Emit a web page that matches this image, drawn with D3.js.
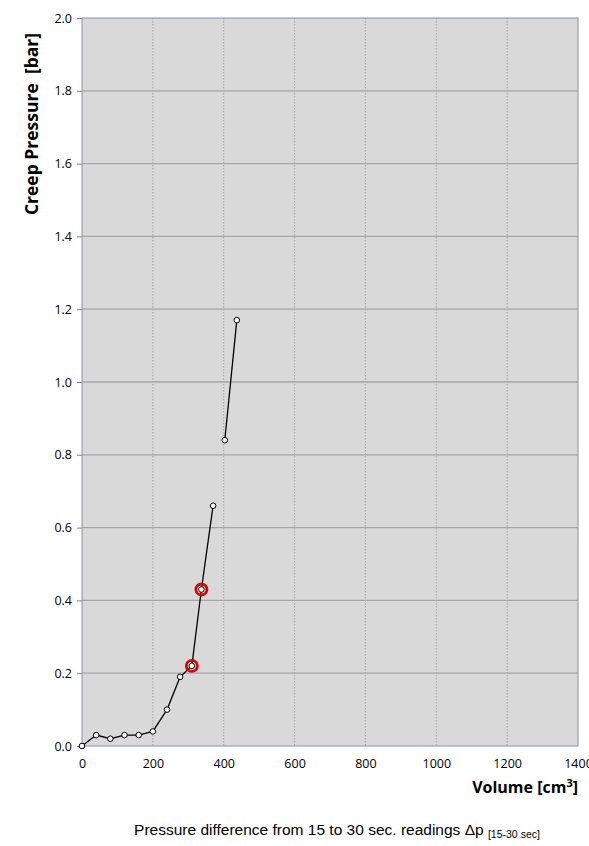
<!DOCTYPE html>
<html>
	<head>
		<meta charset="utf-8">
		<title>Creep Pressure</title>
		<style>
			body { margin: 0; background: #fff; overflow: hidden; }
			svg { position: absolute; left: 0; top: 0; }
		</style>
		<script src="https://d3js.org/d3.v7.min.js" charset="utf-8"></script>
	</head>
	<body>
		<script>
		// volume [cm3] and creep pressure [bar], two separate segments
		var seg1Volume = [0, 40, 80, 120, 160, 200, 240, 277, 310, 337, 370];
		var seg1Pressure = [0, 0.03, 0.02, 0.03, 0.03, 0.04, 0.10, 0.19, 0.22, 0.43, 0.66];
		var seg2Volume = [403, 437];
		var seg2Pressure = [0.84, 1.17];
		// highlighted readings
		var markVolume = [310, 337];
		var markPressure = [0.22, 0.43];

		var xTicks = [0, 200, 400, 600, 800, 1000, 1200, 1400];
		var yTicks = [0, 0.2, 0.4, 0.6, 0.8, 1.0, 1.2, 1.4, 1.6, 1.8, 2.0];

		var w = 589, h = 846;
		var pLeft = 82, pRight = 578, pTop = 18, pBottom = 746;

		var svg = d3.select("body").append("svg")
			.attr("width", w)
			.attr("height", h);

		var x = d3.scaleLinear().domain([0, 1400]).range([pLeft, pRight]);
		var y = d3.scaleLinear().domain([0, 2]).range([pBottom, pTop]);

		svg.append("rect")
			.attr("x", pLeft).attr("y", pTop)
			.attr("width", pRight - pLeft).attr("height", pBottom - pTop)
			.attr("fill", "#d9d9d9");

		// horizontal grid
		svg.append("g").selectAll("line")
			.data(yTicks.slice(1, -1))
			.enter().append("line")
			.attr("x1", pLeft).attr("x2", pRight)
			.attr("y1", function(d){ return y(d); })
			.attr("y2", function(d){ return y(d); })
			.attr("stroke", "#a6a6a6")
			.attr("stroke-width", 1.3);

		// vertical grid, dotted
		svg.append("g").selectAll("line")
			.data(xTicks.slice(1, -1))
			.enter().append("line")
			.attr("x1", function(d){ return x(d); })
			.attr("x2", function(d){ return x(d); })
			.attr("y1", pTop).attr("y2", pBottom)
			.attr("stroke", "#a6a6a6")
			.attr("stroke-width", 1)
			.attr("stroke-dasharray", "1.5,1.5");

		// frame
		svg.append("rect")
			.attr("x", pLeft).attr("y", pTop)
			.attr("width", pRight - pLeft).attr("height", pBottom - pTop)
			.attr("fill", "none")
			.attr("stroke", "#7f93b3")
			.attr("stroke-width", 1);

		var yAxis = d3.axisLeft(y).tickValues(yTicks).tickSize(5).tickFormat(d3.format(".1f"));
		var xAxis = d3.axisBottom(x).tickValues(xTicks).tickSize(0).tickPadding(13).tickFormat(d3.format("d"));

		var gy = svg.append("g").attr("transform", "translate(" + pLeft + ",0)").call(yAxis);
		var gx = svg.append("g").attr("transform", "translate(0," + pBottom + ")").call(xAxis);

		[gx, gy].forEach(function(g){
			g.select(".domain").remove();
			g.selectAll("line").attr("stroke", "#868686");
			g.selectAll("text")
				.attr("fill", "#000")
				.style("font-family", "'Open Sans', 'Noto Sans', sans-serif")
				.style("font-size", "12.5px");
		});
		gy.selectAll("text").attr("x", -10);

		var line = d3.line()
			.x(function(d){ return x(d[0]); })
			.y(function(d){ return y(d[1]); });

		var segments = [
			d3.zip(seg1Volume, seg1Pressure),
			d3.zip(seg2Volume, seg2Pressure)
		];

		svg.append("g").selectAll("path")
			.data(segments)
			.enter().append("path")
			.attr("d", line)
			.attr("fill", "none")
			.attr("stroke", "#000")
			.attr("stroke-width", 1.3);

		svg.append("g").selectAll("circle")
			.data(d3.zip(markVolume, markPressure))
			.enter().append("circle")
			.attr("cx", function(d){ return x(d[0]); })
			.attr("cy", function(d){ return y(d[1]); })
			.attr("r", 5.5)
			.attr("fill", "none")
			.attr("stroke", "#e00000")
			.attr("stroke-width", 2.8);

		svg.append("g").selectAll("circle")
			.data(segments[0].concat(segments[1]))
			.enter().append("circle")
			.attr("cx", function(d){ return x(d[0]); })
			.attr("cy", function(d){ return y(d[1]); })
			.attr("r", 2.8)
			.attr("fill", "#fff")
			.attr("stroke", "#000")
			.attr("stroke-width", 1);

		svg.append("text")
			.attr("transform", "translate(38,124) rotate(-90)")
			.attr("text-anchor", "middle")
			.style("white-space", "pre")
			.style("font-family", "'Open Sans', 'Noto Sans', sans-serif")
			.style("font-size", "17.5px")
			.style("font-weight", "bold")
			.text("Creep Pressure  [bar]");

		var xt = svg.append("text")
			.attr("x", pRight)
			.attr("y", 793)
			.attr("text-anchor", "end")
			.style("font-family", "'Open Sans', 'Noto Sans', sans-serif")
			.style("font-size", "16px")
			.style("font-weight", "bold");
		xt.append("tspan").text("Volume [cm");
		xt.append("tspan").attr("dy", -6).style("font-size", "11px").text("3");
		xt.append("tspan").attr("dy", 6).text("]");

		var cap = svg.append("text")
			.attr("x", 337)
			.attr("y", 835)
			.attr("text-anchor", "middle")
			.style("font-family", "'Liberation Sans', Arial, sans-serif")
			.style("font-size", "15.5px");
		cap.append("tspan").text("Pressure difference from 15 to 30 sec. readings \u0394p ");
		cap.append("tspan").attr("dy", 3).style("font-size", "10.5px").text("[15-30 sec]");
		</script>
	</body>
</html>
